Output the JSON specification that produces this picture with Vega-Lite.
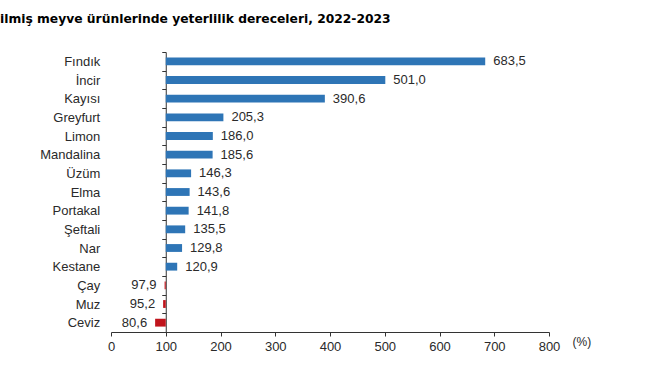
{
  "$schema": "https://vega.github.io/schema/vega-lite/v6.json",
  "width": 438,
  "height": 280,
  "autosize": {"type": "none"},
  "padding": {"left": 111, "top": 52, "right": 110, "bottom": 39},
  "background": "white",
  "config": {
    "view": {"stroke": null},
    "font": "Liberation Sans",
    "locale": {"number": {"decimal": ",", "thousands": ".", "grouping": [3], "currency": ["", " TL"]}}
  },
  "title": {
    "text": "ilmiş meyve ürünlerinde yeterlilik dereceleri, 2022-2023",
    "anchor": "start",
    "frame": "group",
    "dx": -111,
    "offset": 21,
    "fontSize": 12.3,
    "fontWeight": "bold",
    "color": "#000000",
    "font": "DejaVu Sans"
  },
  "data": {
    "values": [
      {"urun": "Fındık", "oran": 683.5},
      {"urun": "İncir", "oran": 501.0},
      {"urun": "Kayısı", "oran": 390.6},
      {"urun": "Greyfurt", "oran": 205.3},
      {"urun": "Limon", "oran": 186.0},
      {"urun": "Mandalina", "oran": 185.6},
      {"urun": "Üzüm", "oran": 146.3},
      {"urun": "Elma", "oran": 143.6},
      {"urun": "Portakal", "oran": 141.8},
      {"urun": "Şeftali", "oran": 135.5},
      {"urun": "Nar", "oran": 129.8},
      {"urun": "Kestane", "oran": 120.9},
      {"urun": "Çay", "oran": 97.9},
      {"urun": "Muz", "oran": 95.2},
      {"urun": "Ceviz", "oran": 80.6}
    ]
  },
  "encoding": {
    "y": {
      "field": "urun",
      "type": "nominal",
      "sort": null,
      "scale": {"paddingInner": 0, "paddingOuter": 0},
      "axis": {
        "title": null,
        "offset": -54.75,
        "tickBand": "extent",
        "tickSize": 4,
        "labelPadding": 62,
        "labelFontSize": 13,
        "labelColor": "#2a2a2a",
        "labelFont": "Liberation Sans",
        "domainColor": "#333333",
        "tickColor": "#333333"
      }
    }
  },
  "layer": [
    {
      "mark": {"type": "bar", "height": {"band": 0.42}},
      "encoding": {
        "x": {
          "field": "oran",
          "type": "quantitative",
          "scale": {"domain": [0, 800], "nice": false},
          "axis": {
            "values": [0, 100, 200, 300, 400, 500, 600, 700, 800],
            "format": "d",
            "grid": false,
            "labelFlush": false,
            "tickSize": 4,
            "labelFontSize": 13,
            "labelColor": "#2a2a2a",
            "labelFont": "Liberation Sans",
            "labelPadding": 4,
            "domainColor": "#333333",
            "tickColor": "#333333",
            "title": "(%)",
            "titleX": 461,
            "titleY": 9,
            "titleAlign": "left",
            "titleBaseline": "middle",
            "titleFontSize": 12,
            "titleFontWeight": "normal",
            "titleColor": "#2a2a2a",
            "titleFont": "Liberation Sans"
          }
        },
        "x2": {"datum": 100},
        "color": {
          "condition": {"test": "datum.oran < 100", "value": "#c0141c"},
          "value": "#2e75b6"
        }
      }
    },
    {
      "transform": [{"filter": "datum.oran >= 100"}],
      "mark": {"type": "text", "align": "left", "dx": 8, "fontSize": 13, "color": "#2a2a2a", "font": "Liberation Sans"},
      "encoding": {
        "x": {"field": "oran", "type": "quantitative"},
        "text": {"field": "oran", "type": "quantitative", "format": ".1f"}
      }
    },
    {
      "transform": [{"filter": "datum.oran < 100"}],
      "mark": {"type": "text", "align": "right", "dx": -8, "fontSize": 13, "color": "#2a2a2a", "font": "Liberation Sans"},
      "encoding": {
        "x": {"field": "oran", "type": "quantitative"},
        "text": {"field": "oran", "type": "quantitative", "format": ".1f"}
      }
    }
  ]
}
